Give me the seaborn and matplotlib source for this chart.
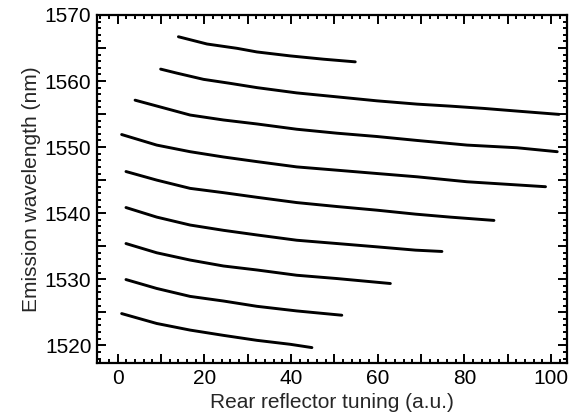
import numpy as np
import pandas as pd
import seaborn as sns
import matplotlib.pyplot as plt
from matplotlib.ticker import MultipleLocator, FuncFormatter

# tuning curves, one per mode (top to bottom)
x1 = [14.0, 20.6, 27.5, 32.1, 39.8, 47.5, 54.8]
y1 = [1566.7, 1565.6, 1564.95, 1564.4, 1563.8, 1563.3, 1562.9]
x2 = [9.9, 13.6, 19.8, 25.9, 32.1, 41.3, 50.6, 59.8, 69.1, 76.7, 84.5, 92.1, 101.8]
y2 = [1561.8, 1561.2, 1560.25, 1559.65, 1559.0, 1558.2, 1557.6, 1557.0, 1556.5,
      1556.2, 1555.85, 1555.45, 1554.95]
x3 = [4.0, 10.5, 16.7, 24.4, 32.1, 41.3, 50.6, 59.8, 69.1, 80.6, 92.1, 101.4]
y3 = [1557.1, 1555.95, 1554.85, 1554.1, 1553.5, 1552.7, 1552.1, 1551.6, 1551.0,
      1550.3, 1549.9, 1549.3]
x4 = [0.9, 9.0, 16.7, 24.4, 32.1, 41.3, 50.6, 59.8, 69.1, 80.6, 98.7]
y4 = [1551.9, 1550.3, 1549.3, 1548.5, 1547.8, 1547.0, 1546.5, 1546.0, 1545.5,
      1544.75, 1544.0]
x5 = [1.9, 9.0, 16.7, 24.4, 32.1, 41.3, 50.6, 59.8, 68.7, 76.7, 86.8]
y5 = [1546.3, 1545.0, 1543.75, 1543.1, 1542.4, 1541.6, 1541.0, 1540.45, 1539.85,
      1539.4, 1538.9]
x6 = [1.9, 9.0, 16.7, 24.4, 32.1, 41.3, 50.6, 59.8, 68.7, 74.8]
y6 = [1540.85, 1539.4, 1538.2, 1537.4, 1536.7, 1535.9, 1535.4, 1534.9, 1534.4, 1534.2]
x7 = [1.9, 9.0, 16.7, 24.4, 32.1, 41.3, 50.6, 62.9]
y7 = [1535.4, 1534.0, 1532.9, 1532.0, 1531.4, 1530.6, 1530.1, 1529.35]
x8 = [1.9, 9.0, 16.7, 24.4, 32.1, 41.3, 51.7]
y8 = [1529.95, 1528.6, 1527.4, 1526.7, 1525.9, 1525.2, 1524.55]
x9 = [0.9, 9.0, 16.7, 24.4, 32.1, 39.8, 44.8]
y9 = [1524.8, 1523.3, 1522.3, 1521.5, 1520.75, 1520.15, 1519.65]

curves = [(x1, y1), (x2, y2), (x3, y3), (x4, y4), (x5, y5),
          (x6, y6), (x7, y7), (x8, y8), (x9, y9)]
df = pd.concat([pd.DataFrame({'x': xs, 'y': ys, 'mode': i})
                for i, (xs, ys) in enumerate(curves)], ignore_index=True)

sns.set_style('ticks')
plt.rcParams['font.family'] = ['Liberation Sans', 'DejaVu Sans']

fig = plt.figure(figsize=(5.77, 4.15), dpi=100)
ax = fig.add_axes([0.168, 0.125, 0.815, 0.839])
sns.lineplot(data=df, x='x', y='y', units='mode', estimator=None,
             color='black', linewidth=2.1, sort=False, ax=ax)

ax.set_xlim(-4.8, 103.7)
ax.set_ylim(1517.3, 1570)
# long ticks every 10 / 5, labels only every 20 / 10
ax.xaxis.set_major_locator(MultipleLocator(10))
ax.xaxis.set_minor_locator(MultipleLocator(2))
ax.yaxis.set_major_locator(MultipleLocator(5))
ax.yaxis.set_minor_locator(MultipleLocator(1))
ax.xaxis.set_major_formatter(FuncFormatter(lambda v, p: f'{v:.0f}' if round(v) % 20 == 0 else ''))
ax.yaxis.set_major_formatter(FuncFormatter(lambda v, p: f'{v:.0f}' if round(v) % 10 == 0 else ''))

ax.tick_params(which='both', direction='in', top=True, right=True,
               width=1.4, labelsize=15, colors='black')
ax.tick_params(which='major', length=6.5, pad=4)
ax.tick_params(which='minor', length=3)
for s in ax.spines.values():
    s.set_linewidth(1.6)
    s.set_color('black')

ax.set_xlabel('Rear reflector tuning (a.u.)', fontsize=15, labelpad=4)
ax.set_ylabel('Emission wavelength (nm)', fontsize=15, labelpad=3)

fig.savefig('out.png', dpi=100)
